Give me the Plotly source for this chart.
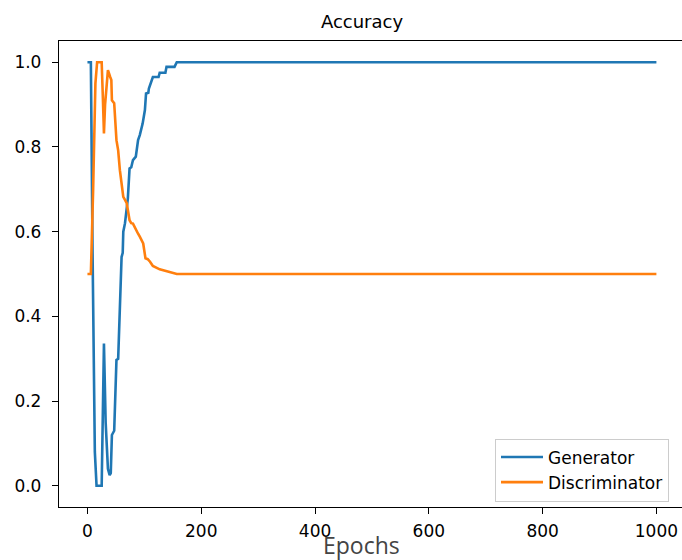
import plotly.graph_objects as go

# Training accuracy per epoch (piecewise readings of the curves)
gen_epochs = [0, 6, 9, 13, 16, 25, 29, 32, 36, 39, 41, 43, 47, 49, 51, 54, 57, 58, 60, 62, 63,
              66, 69, 71, 74, 77, 80, 85, 89, 92, 97, 101, 103, 107, 108, 111, 115, 125,
              127, 137, 139, 153, 157, 1000]
gen_acc = [1.0, 1.0, 0.55, 0.08, 0.0, 0.0, 0.336, 0.15, 0.04, 0.025, 0.03, 0.12, 0.13, 0.2,
           0.297, 0.30, 0.42, 0.45, 0.54, 0.55, 0.60, 0.62, 0.66, 0.678, 0.749, 0.752, 0.769,
           0.777, 0.816, 0.828, 0.855, 0.887, 0.926, 0.928, 0.938, 0.951, 0.965, 0.965,
           0.975, 0.975, 0.989, 0.989, 1.0, 1.0]

disc_epochs = [0, 6, 10, 14, 17, 25, 27, 29, 31, 34, 36, 40, 42, 43, 47, 51, 54, 57, 60, 63,
               66, 69, 74, 77, 80, 86, 89, 92, 98, 102, 106, 110, 115, 127, 138, 156, 157, 1000]
disc_acc = [0.5, 0.5, 0.70, 0.95, 1.0, 1.0, 0.92, 0.832, 0.90, 0.96, 0.981, 0.965, 0.958,
            0.91, 0.903, 0.816, 0.792, 0.745, 0.706, 0.682, 0.675, 0.667, 0.627, 0.62, 0.619,
            0.60, 0.595, 0.588, 0.572, 0.537, 0.535, 0.529, 0.519, 0.511, 0.507, 0.501, 0.5, 0.5]

x_ticks = [0, 200, 400, 600, 800, 1000]
y_ticks = [0.0, 0.2, 0.4, 0.6, 0.8, 1.0]

W, H = 682, 560
L, R, T, B = 59, 0, 41, 53
PW, PH = W - L - R, H - T - B

fig = go.Figure()
fig.add_trace(go.Scatter(x=gen_epochs, y=gen_acc, mode="lines", name="Generator",
                         line=dict(color="#1f77b4", width=2.6)))
fig.add_trace(go.Scatter(x=disc_epochs, y=disc_acc, mode="lines", name="Discriminator",
                         line=dict(color="#ff7f0e", width=2.6)))

tick_font = dict(family="DejaVu Sans", size=17, color="black")
axis_common = dict(ticks="outside", ticklen=6, tickwidth=1.2, tickcolor="black",
                   showgrid=False, zeroline=False, showline=True, linecolor="black",
                   linewidth=1.3, tickfont=tick_font)
fig.update_layout(
    width=W, height=H,
    margin=dict(l=L, r=R, t=T, b=B, pad=0),
    paper_bgcolor="white", plot_bgcolor="white",
    title=dict(text="Accuracy", x=362 / W, xref="container", xanchor="center",
               y=1 - 22 / H, yref="container", yanchor="middle",
               font=dict(family="DejaVu Sans", size=18, color="black")),
    xaxis=dict(range=[-50, 1045], tickvals=x_ticks, mirror=True,
               ticklabelstandoff=2, **axis_common),
    yaxis=dict(range=[-0.05, 1.05], tickvals=y_ticks, tickformat=".1f", mirror=False,
               ticklabelstandoff=7, **axis_common),
    legend=dict(x=(495 - L) / PW, y=(H - B - 438.5) / PH,
                xanchor="left", yanchor="top", itemwidth=42,
                bgcolor="rgba(255,255,255,0.8)", bordercolor="#cccccc", borderwidth=1,
                font=dict(family="DejaVu Sans", size=17, color="black")),
    showlegend=True,
)

fig.add_annotation(text="Epochs", xref="paper", yref="paper",
                   x=(361 - L) / PW, y=-(545 - (H - B)) / PH,
                   xanchor="center", yanchor="middle", showarrow=False,
                   font=dict(family="Open Sans", size=23, color="#444444"))

fig.write_html("out.html")
